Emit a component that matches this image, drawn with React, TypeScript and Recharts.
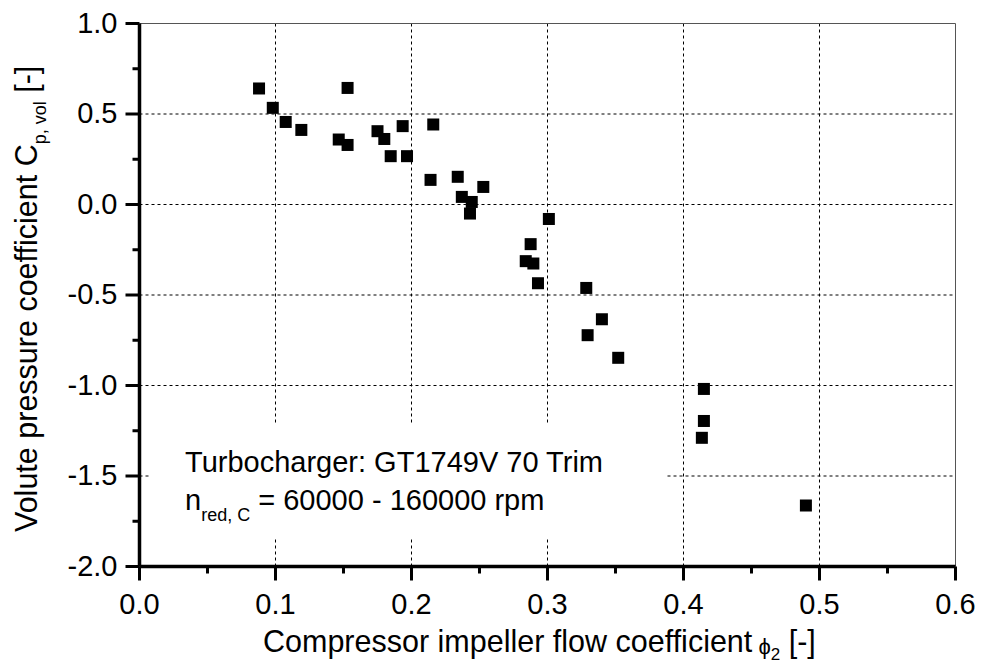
import React from 'react';
import { ScatterChart, Scatter, XAxis, YAxis, ReferenceLine } from 'recharts';

const flowCoefficient = [
  0.0879, 0.098, 0.1075, 0.119, 0.153, 0.1465, 0.153, 0.175, 0.18, 0.1935,
  0.1847, 0.1967, 0.216, 0.214, 0.234, 0.237, 0.2443, 0.243, 0.2528, 0.301,
  0.2876, 0.284, 0.2896, 0.293, 0.3285, 0.34, 0.3295, 0.352, 0.415, 0.415,
  0.4135, 0.49,
];
const pressureCoefficient = [
  0.641, 0.534, 0.456, 0.412, 0.644, 0.359, 0.329, 0.405, 0.362, 0.433,
  0.267, 0.267, 0.442, 0.136, 0.153, 0.042, 0.014, -0.05, 0.097, -0.08,
  -0.219, -0.313, -0.326, -0.435, -0.461, -0.634, -0.722, -0.847, -1.019, -1.196,
  -1.289, -1.663,
];
const xTicks = [0, 0.05, 0.1, 0.15, 0.2, 0.25, 0.3, 0.35, 0.4, 0.45, 0.5, 0.55, 0.6];
const yTicks = [-2, -1.75, -1.5, -1.25, -1, -0.75, -0.5, -0.25, 0, 0.25, 0.5, 0.75, 1];
const xGrid = [0.1, 0.2, 0.3, 0.4, 0.5];
const yGrid = [0.5, 0, -0.5, -1, -1.5];

const data = flowCoefficient.map((x, i) => ({ x, y: pressureCoefficient[i] }));

const FONT = '"Liberation Sans", Arial, sans-serif';

const isMajor = (v: number, step: number) => Math.abs(v / step - Math.round(v / step)) < 1e-6;

const XTick = (props: any) => {
  const { x, y, payload } = props;
  const major = isMajor(payload.value, 0.1);
  return (
    <g>
      <line x1={x} x2={x} y1={y} y2={y + (major ? 14 : 7)} stroke="#000" strokeWidth={3} />
      {major && (
        <text x={x} y={y + 47} textAnchor="middle" fontSize={29} fontFamily={FONT} fill="#000">
          {payload.value.toFixed(1)}
        </text>
      )}
    </g>
  );
};

const YTick = (props: any) => {
  const { x, y, payload } = props;
  const major = isMajor(payload.value, 0.5);
  return (
    <g>
      <line x1={x} x2={x - (major ? 14 : 7)} y1={y} y2={y} stroke="#000" strokeWidth={3} />
      {major && (
        <text x={x - 22} y={y + 9} textAnchor="end" fontSize={29} fontFamily={FONT} fill="#000">
          {payload.value.toFixed(1)}
        </text>
      )}
    </g>
  );
};

const Square = (props: any) => {
  const { cx, cy } = props;
  return <rect x={cx - 6} y={cy - 6} width={12} height={12} fill="#000" />;
};

export default function App() {
  return (
    <div style={{ position: 'absolute', left: 0, top: 0, width: 981, height: 666, background: '#fff' }}>
      <ScatterChart
        width={981}
        height={666}
        margin={{ top: 23.5, right: 25.5, left: 0, bottom: 0 }}
      >
        {xGrid.map((v) => (
          <ReferenceLine key={'gx' + v} x={v} stroke="#000" strokeWidth={1} strokeDasharray="3 3" />
        ))}
        {yGrid.map((v) => (
          <ReferenceLine key={'gy' + v} y={v} stroke="#000" strokeWidth={1} strokeDasharray="3 3" />
        ))}
        <ReferenceLine y={1} stroke="#555" strokeWidth={1} />
        <ReferenceLine x={0.6} stroke="#555" strokeWidth={1} />
        <XAxis
          type="number"
          dataKey="x"
          domain={[0, 0.6]}
          ticks={xTicks}
          interval={0}
          height={99.5}
          tickSize={0}
          tickMargin={0}
          tickLine={false}
          axisLine={{ stroke: '#000', strokeWidth: 3.5 }}
          tick={<XTick />}
          allowDataOverflow
        />
        <YAxis
          type="number"
          dataKey="y"
          domain={[-2, 1]}
          ticks={yTicks}
          interval={0}
          width={139.5}
          tickSize={0}
          tickMargin={0}
          tickLine={false}
          axisLine={{ stroke: '#000', strokeWidth: 3.5 }}
          tick={<YTick />}
          allowDataOverflow
        />
        <Scatter data={data} shape={<Square />} isAnimationActive={false} />
      </ScatterChart>
      <svg
        width={981}
        height={666}
        style={{ position: 'absolute', left: 0, top: 0, pointerEvents: 'none' }}
        fontFamily={FONT}
      >
        <rect x={151} y={425} width={516} height={113} fill="#fff" />
        <text x={185} y={472} fontSize={29} fill="#000">Turbocharger: GT1749V 70 Trim</text>
        <text x={185} y={510} fontSize={29} fill="#000">
          n
          <tspan fontSize={18} dy={11}>red, C</tspan>
          <tspan dy={-11}> = 60000 - 160000 rpm</tspan>
        </text>
        <text x={263} y={652} fontSize={30.5} fill="#000" textAnchor="start">
          Compressor impeller flow coefficient
          <tspan fontSize={22} dy={2}> ϕ</tspan>
          <tspan fontSize={17} dy={6}>2</tspan>
          <tspan fontSize={30.5} dy={-8}> [-]</tspan>
        </text>
        <text
          transform="translate(37, 532) rotate(-90)"
          fontSize={30.5}
          fill="#000"
          textAnchor="start"
        >
          Volute pressure coefficient C
          <tspan fontSize={18} dy={9}>p, vol</tspan>
          <tspan fontSize={30.5} dy={-9}> [-]</tspan>
        </text>
      </svg>
    </div>
  );
}
